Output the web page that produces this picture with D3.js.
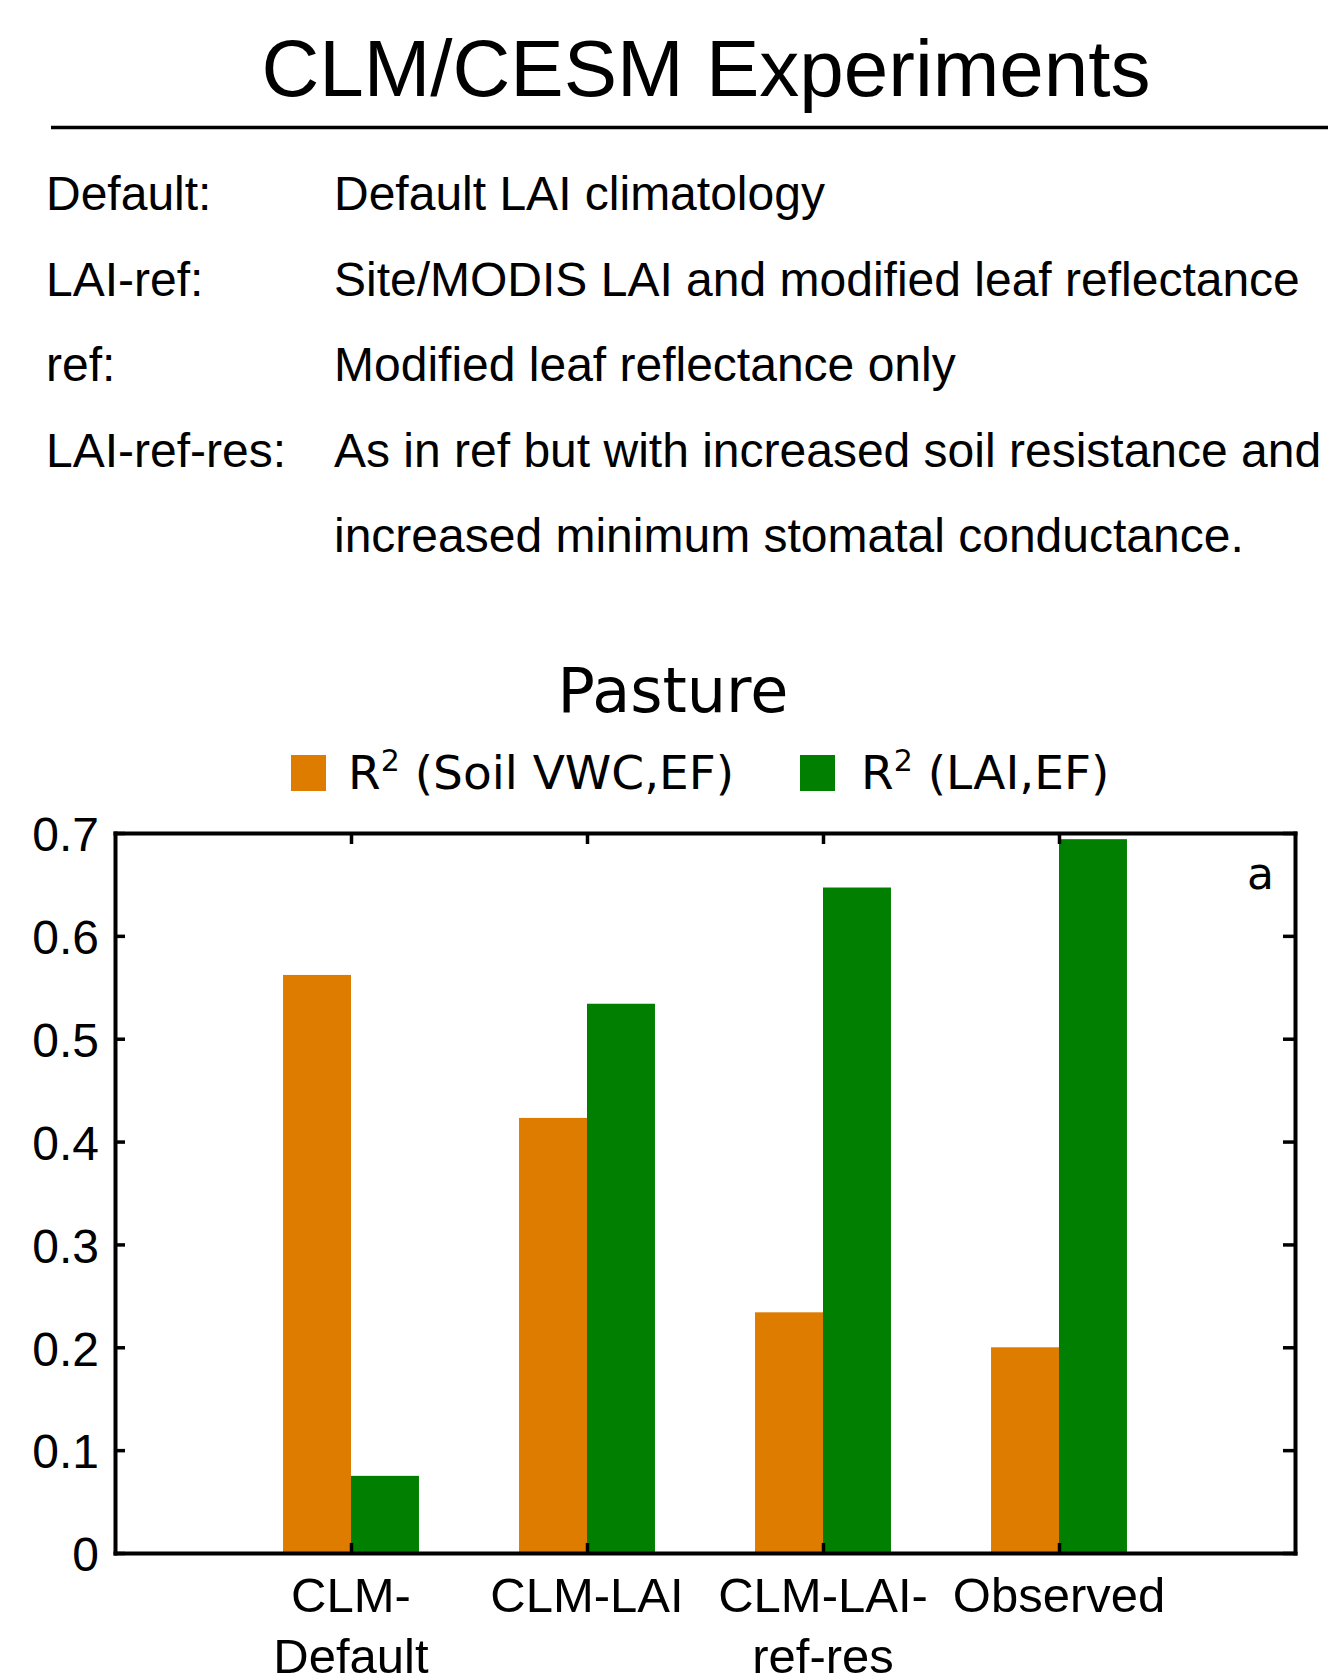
<!DOCTYPE html>
<html>
<head>
<meta charset="utf-8">
<script src="https://cdn.jsdelivr.net/npm/d3@7"></script>
<style>
  html, body { margin: 0; padding: 0; background: #fff; }
  svg { display: block; }
</style>
</head>
<body>
<svg id="fig" width="1328" height="1677"></svg>
<script>
// Experiment descriptions (label, description lines)
const expNames = ["Default:", "LAI-ref:", "ref:", "LAI-ref-res:", ""];
const expDescriptions = [
  "Default LAI climatology",
  "Site/MODIS LAI and modified leaf reflectance",
  "Modified leaf reflectance only",
  "As in ref but with increased soil resistance and",
  "increased minimum stomatal conductance."
];

// Bar chart data
const categories = [["CLM-", "Default"], ["CLM-LAI"], ["CLM-LAI-", "ref-res"], ["Observed"]];
const seriesNames = ["Soil VWC,EF", "LAI,EF"];
const r2SoilVWC = [0.562, 0.423, 0.234, 0.200];
const r2LAI = [0.075, 0.534, 0.647, 0.694];
const yTicks = [0, 0.1, 0.2, 0.3, 0.4, 0.5, 0.6, 0.7];

const ORANGE = "#de7c00";
const GREEN = "#007f00";
const SANS = "'Liberation Sans', Arial, sans-serif";
const DEJAVU = "'DejaVu Sans', sans-serif";

const svg = d3.select("#fig");

// ---- Header ----
svg.append("text")
  .attr("x", 706).attr("y", 96)
  .attr("text-anchor", "middle")
  .style("font-family", SANS).style("font-size", "80px")
  .text("CLM/CESM Experiments");

svg.append("line")
  .attr("x1", 51).attr("x2", 1328)
  .attr("y1", 127.5).attr("y2", 127.5)
  .attr("stroke", "#000").attr("stroke-width", 3.5);

const rowY = d3.scaleLinear().domain([0, 4]).range([210, 552]);
const rows = svg.append("g")
  .style("font-family", SANS).style("font-size", "48px");
expNames.forEach((n, i) => {
  rows.append("text").attr("x", 46).attr("y", rowY(i)).text(n);
  rows.append("text").attr("x", 334).attr("y", rowY(i)).text(expDescriptions[i]);
});

// ---- Chart ----
const plot = { left: 115, right: 1295, top: 833, bottom: 1553 };
const x = d3.scaleLinear().domain([0, categories.length + 1]).range([plot.left, plot.right]);
const y = d3.scaleLinear().domain([0, 0.7]).range([plot.bottom, plot.top]);
const barW = 0.288; // bar width in category units

svg.append("text")
  .attr("x", 673).attr("y", 712)
  .attr("text-anchor", "middle")
  .style("font-family", DEJAVU).style("font-size", "62px")
  .text("Pasture");

// Legend
const legend = svg.append("g").style("font-family", DEJAVU).style("font-size", "47px");
const legendItems = [
  { name: seriesNames[0], color: ORANGE, sx: 291, tx: 348 },
  { name: seriesNames[1], color: GREEN, sx: 800, tx: 861 }
];
legendItems.forEach(d => {
  legend.append("rect").attr("x", d.sx).attr("y", 755).attr("width", 35).attr("height", 36).attr("fill", d.color);
  const t = legend.append("text").attr("x", d.tx).attr("y", 789);
  t.append("tspan").text("R");
  t.append("tspan").attr("dy", -18).style("font-size", "30px").text("2");
  t.append("tspan").attr("dy", 18).text(" (" + d.name + ")");
});

// Bars
const bars = svg.append("g");
categories.forEach((c, i) => {
  const cx = i + 1;
  bars.append("rect")
    .attr("x", x(cx - barW)).attr("width", x(cx) - x(cx - barW))
    .attr("y", y(r2SoilVWC[i])).attr("height", y(0) - y(r2SoilVWC[i]))
    .attr("fill", ORANGE);
  bars.append("rect")
    .attr("x", x(cx)).attr("width", x(cx + barW) - x(cx))
    .attr("y", y(r2LAI[i])).attr("height", y(0) - y(r2LAI[i]))
    .attr("fill", GREEN);
});

// Axes
const catTicks = categories.map((c, i) => i + 1);
const fmt = d => d === 0 ? "0" : d.toFixed(1);

const yAxisL = svg.append("g").attr("transform", `translate(${plot.left},0)`)
  .call(d3.axisLeft(y).tickValues(yTicks).tickFormat(fmt).tickSize(-10).tickSizeOuter(0).tickPadding(16));
const yAxisR = svg.append("g").attr("transform", `translate(${plot.right},0)`)
  .call(d3.axisRight(y).tickValues(yTicks).tickFormat("").tickSize(-12).tickSizeOuter(0));
const xAxisT = svg.append("g").attr("transform", `translate(0,${plot.top})`)
  .call(d3.axisTop(x).tickValues(catTicks).tickFormat("").tickSize(-11).tickSizeOuter(0));
const xAxisB = svg.append("g").attr("transform", `translate(0,${plot.bottom})`)
  .call(d3.axisBottom(x).tickValues(catTicks).tickFormat("").tickSize(-10).tickSizeOuter(0));

[yAxisL, yAxisR, xAxisT, xAxisB].forEach(g => {
  g.select(".domain").attr("stroke", "#000").attr("stroke-width", 4).attr("stroke-linecap", "square");
  g.selectAll(".tick line").attr("stroke", "#000").attr("stroke-width", 3.5);
});
yAxisL.selectAll(".tick text")
  .style("font-family", SANS).style("font-size", "48px").attr("fill", "#000").attr("dy", "0.37em");

// Category labels
const xl = svg.append("g").style("font-family", SANS).style("font-size", "49px");
categories.forEach((lines, i) => {
  const t = xl.append("text").attr("text-anchor", "middle").attr("y", 1612);
  lines.forEach((ln, j) => {
    t.append("tspan").attr("x", x(i + 1)).attr("dy", j === 0 ? 0 : 61).text(ln);
  });
});

// Panel tag
svg.append("text")
  .attr("x", 1247).attr("y", 889)
  .style("font-family", DEJAVU).style("font-size", "44px")
  .text("a");
</script>
</body>
</html>
